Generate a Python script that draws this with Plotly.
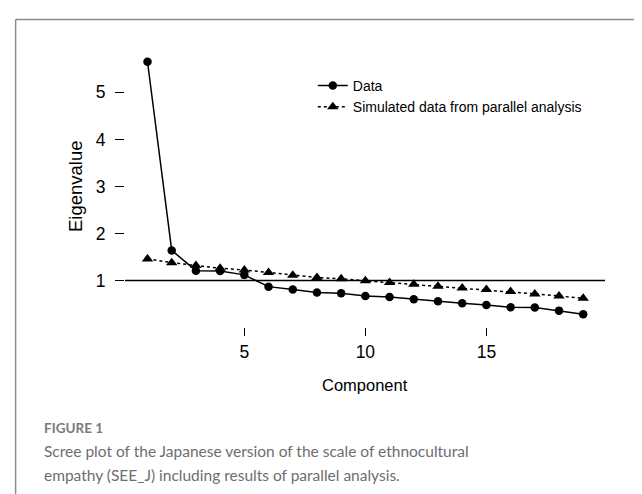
import plotly.graph_objects as go

components = list(range(1, 20))
data_eig = [5.65, 1.64, 1.21, 1.20, 1.12, 0.87, 0.81, 0.745, 0.73, 0.67,
            0.65, 0.60, 0.56, 0.515, 0.48, 0.43, 0.425, 0.36, 0.285]
sim_eig = [1.46, 1.38, 1.32, 1.26, 1.225, 1.17, 1.11, 1.065, 1.035, 0.995,
           0.96, 0.92, 0.88, 0.84, 0.81, 0.765, 0.715, 0.67, 0.625]
x_ticks = [5, 10, 15]
y_ticks = [1, 2, 3, 4, 5]

W, H = 642, 494
L, R, T, B = 117, 44.5, 42, 175
pw, ph = W - L - R, H - T - B


def px(xp):
    return (xp - L) / pw


def py(yp):
    return (H - B - yp) / ph


fig = go.Figure()
fig.add_trace(go.Scatter(
    x=components, y=data_eig, mode="lines+markers", name="Data",
    line=dict(color="black", width=1.5),
    marker=dict(symbol="circle", size=8.5, color="black"),
))
fig.add_trace(go.Scatter(
    x=components, y=sim_eig, mode="lines+markers",
    name="Simulated data from parallel analysis",
    line=dict(color="black", width=1.5, dash="3px,3px"),
    marker=dict(symbol="triangle-up", size=10, color="black"),
))

fig.add_shape(type="line", xref="paper", yref="y", x0=0, x1=1, y0=1, y1=1,
              line=dict(color="black", width=1.6), layer="below")

# outer frame (top and left edges)
fig.add_shape(type="line", xref="paper", yref="paper",
              x0=px(7.5), x1=px(645), y0=py(11.5), y1=py(11.5),
              line=dict(color="#8c8c8c", width=1.5))
fig.add_shape(type="line", xref="paper", yref="paper",
              x0=px(7.5), x1=px(7.5), y0=py(11.5), y1=py(500),
              line=dict(color="#8c8c8c", width=1.5))

font_main = "Liberation Sans, Arial, sans-serif"
fig.add_annotation(text="Component", xref="paper", yref="paper",
                   x=px(357), y=py(377), showarrow=False,
                   font=dict(family=font_main, size=16.5, color="black"),
                   xanchor="center", yanchor="middle")
fig.add_annotation(text="Eigenvalue", xref="paper", yref="paper",
                   x=px(67), y=py(178), showarrow=False, textangle=-90,
                   font=dict(family=font_main, size=18.5, color="black"),
                   xanchor="center", yanchor="middle")

cap_font = "Lato, Open Sans, sans-serif"
fig.add_annotation(text="FIGURE 1", xref="paper", yref="paper",
                   x=px(34), y=py(420), showarrow=False,
                   font=dict(family=cap_font, size=13.5, color="#7a7a7a",
                             weight="bold"),
                   xanchor="left", yanchor="middle")
fig.add_annotation(text="Scree plot of the Japanese version of the scale of ethnocultural",
                   xref="paper", yref="paper", x=px(34), y=py(443), showarrow=False,
                   font=dict(family=cap_font, size=15.5, color="#6e6e6e"),
                   xanchor="left", yanchor="middle")
fig.add_annotation(text="empathy (SEE_J) including results of parallel analysis.",
                   xref="paper", yref="paper", x=px(34), y=py(467), showarrow=False,
                   font=dict(family=cap_font, size=15.5, color="#6e6e6e"),
                   xanchor="left", yanchor="middle")

fig.update_layout(
    width=W, height=H,
    margin=dict(l=L, r=R, t=T, b=B, pad=0),
    paper_bgcolor="white", plot_bgcolor="white",
    font=dict(family=font_main, color="black"),
    showlegend=True,
    legend=dict(x=px(305), y=py(62), xanchor="left", yanchor="top",
                bgcolor="rgba(0,0,0,0)", itemwidth=30,
                font=dict(family=font_main, size=14, color="black"),
                tracegroupgap=0),
    xaxis=dict(range=[0.07, 19.9], tickvals=x_ticks, ticks="outside",
               ticklen=8, tickwidth=1, tickcolor="black", showline=False,
               showgrid=False, zeroline=False, ticklabelstandoff=1,
               tickfont=dict(family=font_main, size=17.5, color="black")),
    yaxis=dict(range=[0.012, 5.9], tickvals=y_ticks, ticks="outside",
               ticklen=9, tickwidth=1, tickcolor="black", showline=False,
               showgrid=False, zeroline=False, ticklabelstandoff=6,
               tickfont=dict(family=font_main, size=17.5, color="black")),
)

fig.write_html("out.html")
